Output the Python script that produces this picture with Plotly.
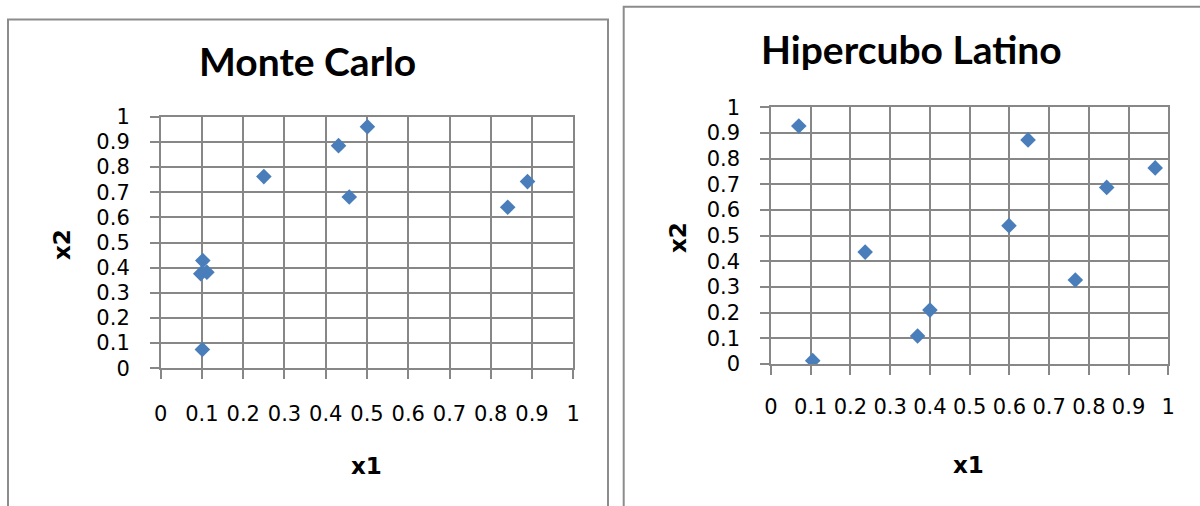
import plotly.graph_objects as go

# Monte Carlo sample (x1, x2)
mc_x1 = [0.501, 0.431, 0.250, 0.457, 0.889, 0.841, 0.102, 0.097, 0.112, 0.101]
mc_x2 = [0.960, 0.885, 0.762, 0.681, 0.742, 0.640, 0.428, 0.376, 0.382, 0.075]

# Latin hypercube sample (x1, x2)
lhs_x1 = [0.070, 0.105, 0.237, 0.369, 0.400, 0.599, 0.647, 0.766, 0.845, 0.967]
lhs_x2 = [0.927, 0.013, 0.436, 0.109, 0.210, 0.539, 0.873, 0.327, 0.688, 0.764]

tick_vals = [0, 0.1, 0.2, 0.3, 0.4, 0.5, 0.6, 0.7, 0.8, 0.9, 1]
tick_text = ["0", "0.1", "0.2", "0.3", "0.4", "0.5", "0.6", "0.7", "0.8", "0.9", "1"]

titles = ["Monte Carlo", "Hipercubo Latino"]

W, H = 1200, 506
TITLE_FONT = "Lato"
TEXT_FONT = "DejaVu Sans"
GRID = "#878787"
BLUE = "#4a7ebb"


def px_x(v):
    return v / W


def px_y(v):
    return 1 - v / H


fig = go.Figure()
fig.add_trace(go.Scatter(x=mc_x1, y=mc_x2, mode="markers", xaxis="x", yaxis="y",
                         marker=dict(symbol="diamond", size=12, color=BLUE), showlegend=False))
fig.add_trace(go.Scatter(x=lhs_x1, y=lhs_x2, mode="markers", xaxis="x2", yaxis="y2",
                         marker=dict(symbol="diamond", size=12, color=BLUE), showlegend=False))

axis_common = dict(
    range=[0, 1], tickmode="array", tickvals=tick_vals, ticktext=tick_text,
    showgrid=True, gridcolor=GRID, gridwidth=1.5, zeroline=False,
    showline=True, linecolor=GRID, linewidth=1.5, mirror=True,
    ticks="outside", ticklen=9, tickwidth=1.5, tickcolor=GRID,
    tickfont=dict(family=TEXT_FONT, size=21, color="black"),
    fixedrange=True, automargin=False,
)

# plot areas in pixels: (left, right, top, bottom) and x tick-label standoff
areas = [(160.7, 573.3, 116.7, 368.3, 17), (771.0, 1168.3, 107.3, 364.0, 14)]

layout_axes = {}
for i, (l, r, t, b, xs) in enumerate(areas):
    sx = "" if i == 0 else str(i + 1)
    layout_axes["xaxis" + sx] = dict(axis_common, domain=[px_x(l), px_x(r)],
                                     anchor="y" + sx, ticklabelstandoff=xs)
    layout_axes["yaxis" + sx] = dict(axis_common, domain=[px_y(b), px_y(t)],
                                     anchor="x" + sx, ticklabelstandoff=16)

fig.update_layout(
    width=W, height=H, margin=dict(l=0, r=0, t=0, b=0, autoexpand=False),
    paper_bgcolor="white", plot_bgcolor="white",
    **layout_axes,
)

# chart frames
frames = [(8, 608, 19.5, 520), (623.7, 1210, 6.7, 520)]
for (x0, x1, y0, y1) in frames:
    fig.add_shape(type="rect", xref="paper", yref="paper",
                  x0=px_x(x0), x1=px_x(x1), y0=px_y(y1), y1=px_y(y0),
                  line=dict(color="#8c8c8c", width=2), fillcolor="rgba(0,0,0,0)")

# chart titles and axis titles
title_pos = [(307, 61), (911, 49)]
x1_pos = [(366, 466), (968, 465)]
x2_pos = [(62, 245), (678, 237)]
for i in range(2):
    fig.add_annotation(text="<b>%s</b>" % titles[i], xref="paper", yref="paper",
                       x=px_x(title_pos[i][0]), y=px_y(title_pos[i][1]),
                       showarrow=False, xanchor="center", yanchor="middle",
                       font=dict(family=TITLE_FONT, size=39, color="black"))
    fig.add_annotation(text="<b>x1</b>", xref="paper", yref="paper",
                       x=px_x(x1_pos[i][0]), y=px_y(x1_pos[i][1]),
                       showarrow=False, xanchor="center", yanchor="middle",
                       font=dict(family=TEXT_FONT, size=23, color="black"))
    fig.add_annotation(text="<b>x2</b>", xref="paper", yref="paper",
                       x=px_x(x2_pos[i][0]), y=px_y(x2_pos[i][1]), textangle=-90,
                       showarrow=False, xanchor="center", yanchor="middle",
                       font=dict(family=TEXT_FONT, size=23, color="black"))

fig.write_html("out.html")
